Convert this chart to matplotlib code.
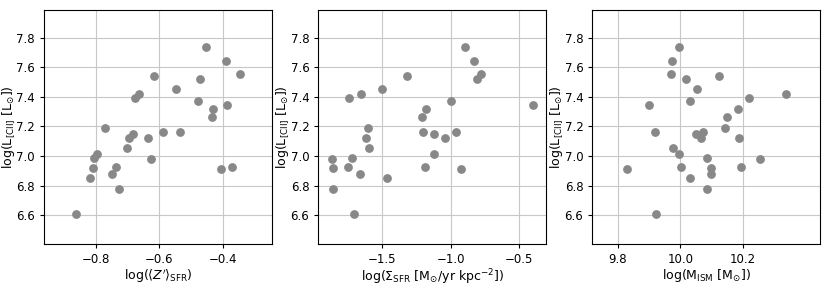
import numpy as np
import matplotlib
matplotlib.use("Agg")
import matplotlib.pyplot as plt

# log L[CII] shared by all panels
log_lcii = [6.611, 6.849, 6.921, 6.989, 7.013, 7.193, 6.879, 6.924, 6.778, 7.052,
            7.121, 7.148, 7.393, 7.418, 7.121, 6.982, 7.539, 7.160, 7.454, 7.162,
            7.375, 7.517, 7.739, 7.317, 7.263, 6.910, 7.640, 7.348, 6.928, 7.557]

log_zsfr = [-0.865, -0.819, -0.811, -0.806, -0.799, -0.771, -0.751, -0.738, -0.729, -0.704,
            -0.695, -0.683, -0.677, -0.664, -0.637, -0.626, -0.618, -0.588, -0.549, -0.534,
            -0.477, -0.472, -0.453, -0.432, -0.433, -0.407, -0.389, -0.386, -0.372, -0.345]

log_sigma_sfr = [-1.707, -1.463, -1.863, -1.720, -1.120, -1.607, -1.661, -1.751, -1.859, -1.600,
                 -1.622, -1.127, -1.741, -1.656, -1.046, -1.868, -1.322, -1.205, -1.502, -0.966,
                 -1.000, -0.812, -0.898, -1.183, -1.210, -0.924, -0.834, -0.400, -1.188, -0.783]

log_mism = [9.923, 10.030, 10.097, 10.084, 9.995, 10.142, 10.097, 10.194, 10.084, 9.977,
            10.066, 10.051, 10.219, 10.339, 10.187, 10.255, 10.124, 9.919, 10.054, 10.074,
            10.032, 10.020, 9.997, 10.184, 10.148, 9.829, 9.973, 9.901, 10.003, 9.971]

xlabels = [r"log($\langle Z'\rangle_{\rm SFR}$)",
           r"log($\Sigma_{\rm SFR}$ [M$_{\odot}$/yr kpc$^{-2}$])",
           r"log(M$_{\rm ISM}$ [M$_{\odot}$])"]
ylabel = r"log(L$_{\rm [CII]}$ [L$_{\odot}$])"

xlims = [(-0.965, -0.245), (-1.968, -0.305), (9.719, 10.447)]
xticks = [[-0.8, -0.6, -0.4], [-1.5, -1.0, -0.5], [9.8, 10.0, 10.2]]
yticks = [6.6, 6.8, 7.0, 7.2, 7.4, 7.6, 7.8]

fig = plt.figure(figsize=(8.3, 2.88), dpi=100)
lefts = [0.053, 0.3835, 0.7136]

for i, xs in enumerate([log_zsfr, log_sigma_sfr, log_mism]):
    ax = fig.add_axes([lefts[i], 0.1528, 0.2745, 0.8125])
    ax.grid(True, color="#c8c8c8", linewidth=0.8, zorder=0)
    ax.scatter(xs, log_lcii, s=28, color="#888888", zorder=3)
    ax.set_xlim(*xlims[i])
    ax.set_ylim(6.407, 7.986)
    ax.set_xticks(xticks[i])
    ax.set_yticks(yticks)
    ax.tick_params(labelsize=8.5, length=3)
    ax.set_xlabel(xlabels[i], fontsize=9, labelpad=1)
    ax.set_ylabel(ylabel, fontsize=9)
    ax.yaxis.set_label_coords(-0.12, 0.5)

fig.savefig("out.png", dpi=100)
